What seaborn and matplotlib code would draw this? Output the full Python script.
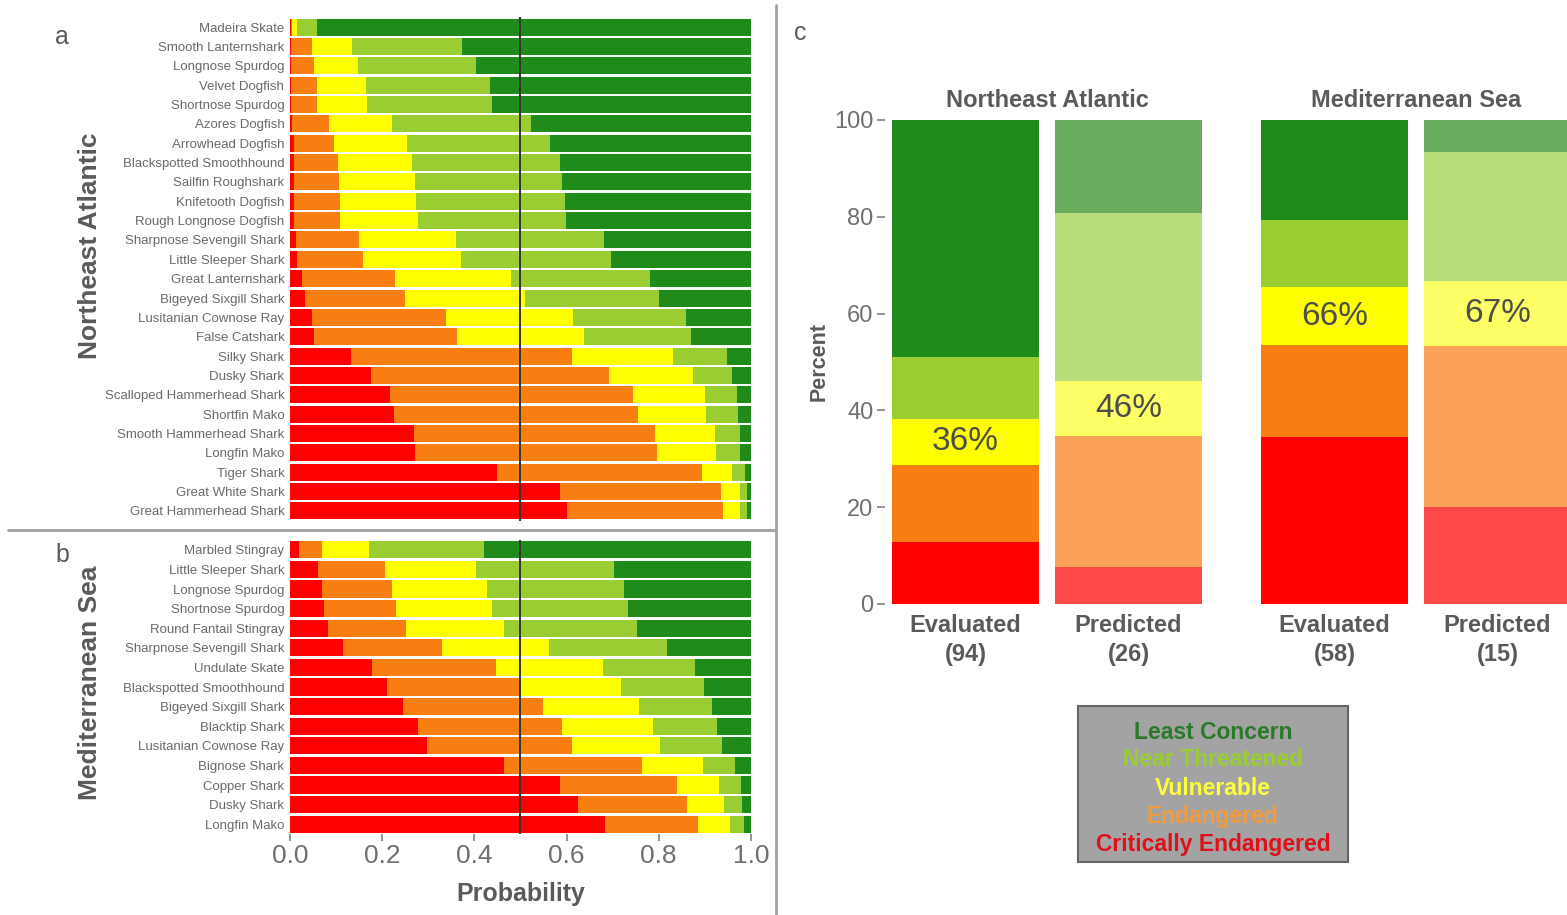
import numpy as np
import pandas as pd
import matplotlib
matplotlib.use("Agg")
import matplotlib.pyplot as plt
import seaborn as sns
from matplotlib.lines import Line2D
from matplotlib.patches import Rectangle

# ---------- data ----------
categories = ["Critically Endangered", "Endangered", "Vulnerable", "Near Threatened", "Least Concern"]

nea_species = ["Madeira Skate", "Smooth Lanternshark", "Longnose Spurdog", "Velvet Dogfish",
               "Shortnose Spurdog", "Azores Dogfish", "Arrowhead Dogfish", "Blackspotted Smoothhound",
               "Sailfin Roughshark", "Knifetooth Dogfish", "Rough Longnose Dogfish",
               "Sharpnose Sevengill Shark", "Little Sleeper Shark", "Great Lanternshark",
               "Bigeyed Sixgill Shark", "Lusitanian Cownose Ray", "False Catshark", "Silky Shark",
               "Dusky Shark", "Scalloped Hammerhead Shark", "Shortfin Mako", "Smooth Hammerhead Shark",
               "Longfin Mako", "Tiger Shark", "Great White Shark", "Great Hammerhead Shark"]
nea_cr = [0.002, 0.002, 0.002, 0.003, 0.003, 0.005, 0.008, 0.008, 0.008, 0.008, 0.008, 0.014, 0.016,
          0.027, 0.032, 0.047, 0.052, 0.132, 0.177, 0.218, 0.225, 0.269, 0.271, 0.449, 0.586, 0.601]
nea_en = [0.003, 0.045, 0.051, 0.055, 0.056, 0.080, 0.088, 0.097, 0.099, 0.100, 0.100, 0.136, 0.143,
          0.200, 0.217, 0.291, 0.311, 0.480, 0.516, 0.527, 0.530, 0.523, 0.525, 0.445, 0.349, 0.338]
nea_vu = [0.011, 0.087, 0.095, 0.107, 0.108, 0.137, 0.157, 0.160, 0.164, 0.166, 0.169, 0.210, 0.213,
          0.253, 0.260, 0.276, 0.276, 0.220, 0.181, 0.156, 0.148, 0.131, 0.128, 0.066, 0.041, 0.038]
nea_nt = [0.042, 0.240, 0.256, 0.270, 0.271, 0.301, 0.312, 0.320, 0.320, 0.322, 0.321, 0.322, 0.325,
          0.301, 0.292, 0.245, 0.232, 0.117, 0.086, 0.069, 0.068, 0.053, 0.052, 0.028, 0.015, 0.014]
nea_lc = [0.942, 0.626, 0.596, 0.565, 0.562, 0.477, 0.435, 0.415, 0.409, 0.404, 0.402, 0.318, 0.303,
          0.219, 0.199, 0.141, 0.129, 0.051, 0.040, 0.030, 0.029, 0.024, 0.024, 0.012, 0.009, 0.009]

med_species = ["Marbled Stingray", "Little Sleeper Shark", "Longnose Spurdog", "Shortnose Spurdog",
               "Round Fantail Stingray", "Sharpnose Sevengill Shark", "Undulate Skate",
               "Blackspotted Smoothhound", "Bigeyed Sixgill Shark", "Blacktip Shark",
               "Lusitanian Cownose Ray", "Bignose Shark", "Copper Shark", "Dusky Shark", "Longfin Mako"]
med_cr = [0.020, 0.062, 0.070, 0.073, 0.082, 0.115, 0.178, 0.211, 0.245, 0.278, 0.298, 0.465, 0.585, 0.625, 0.683]
med_en = [0.050, 0.144, 0.151, 0.157, 0.169, 0.215, 0.270, 0.286, 0.303, 0.312, 0.313, 0.298, 0.255, 0.236, 0.203]
med_vu = [0.101, 0.198, 0.207, 0.208, 0.214, 0.233, 0.231, 0.222, 0.209, 0.198, 0.191, 0.132, 0.090, 0.080, 0.068]
med_nt = [0.250, 0.299, 0.297, 0.295, 0.287, 0.255, 0.200, 0.179, 0.158, 0.139, 0.135, 0.071, 0.048, 0.039, 0.030]
med_lc = [0.579, 0.297, 0.275, 0.267, 0.248, 0.182, 0.121, 0.102, 0.085, 0.073, 0.063, 0.034, 0.022, 0.020, 0.016]

# panel c: species counts per status (CR, EN, VU, NT, LC)
status_labels = ["Evaluated\n(94)", "Predicted\n(26)", "Evaluated\n(58)", "Predicted\n(15)"]
nea_eval_counts = [12, 15, 9, 12, 46]
nea_pred_counts = [2, 7, 3, 9, 5]
med_eval_counts = [20, 11, 7, 8, 12]
med_pred_counts = [3, 5, 2, 4, 1]
threat_labels = ["36%", "46%", "66%", "67%"]

# ---------- style ----------
eval_colors = ["#FF0000", "#F97E12", "#FFFF00", "#9ACD32", "#1F8B1A"]
pred_colors = ["#FF4848", "#FBA15A", "#FFFF66", "#B6DC7C", "#6AAB5E"]
legend_colors = ["#E0101A", "#F29A3C", "#FFFF3A", "#9ACD32", "#2A7A2A"]
grey_txt = "#5A5A5A"

sns.set_theme(style="white")
plt.rcParams["font.family"] = ["Liberation Sans", "DejaVu Sans"]

fig = plt.figure(figsize=(15.67, 9.15), dpi=100)


def stacked_probs(ax, species, parts):
    cum = np.cumsum(np.array(parts), axis=0)
    # draw from the outermost (LC) inwards so each category overlays the next
    for i in range(len(parts) - 1, -1, -1):
        sns.barplot(x=cum[i], y=species, orient="h", color=eval_colors[i], saturation=1,
                    width=0.88, ax=ax, linewidth=0)
    ax.axvline(0.5, color="#333333", lw=1.4, zorder=5)
    ax.set_xlim(0, 1.0)
    ax.set_ylim(len(species) - 0.5, -0.5)
    ax.set_ylabel("")
    ax.set_xlabel("")
    for s in ax.spines.values():
        s.set_visible(False)
    ax.tick_params(axis="y", length=0, pad=4, labelsize=9.5, labelcolor="#6A6A6A")


ax_a = fig.add_axes([0.185, 0.431, 0.2942, 0.550])
stacked_probs(ax_a, nea_species, [nea_cr, nea_en, nea_vu, nea_nt, nea_lc])
ax_a.set_xticks([])

ax_b = fig.add_axes([0.185, 0.0885, 0.2942, 0.3213])
stacked_probs(ax_b, med_species, [med_cr, med_en, med_vu, med_nt, med_lc])
ax_b.set_xticks([0, 0.2, 0.4, 0.6, 0.8, 1.0])
ax_b.set_xticklabels(["0.0", "0.2", "0.4", "0.6", "0.8", "1.0"])
ax_b.tick_params(axis="x", bottom=True, length=5, color="#888888", labelsize=19,
                 labelcolor="#707070", pad=2)
ax_b.set_xlabel("Probability", fontsize=18, fontweight="bold", color="#5A5A5A", labelpad=10)

fig.text(0.0574, 0.731, "Northeast Atlantic", rotation=90, ha="center", va="center",
         fontsize=19, fontweight="bold", color=grey_txt)
fig.text(0.0574, 0.2536, "Mediterranean Sea", rotation=90, ha="center", va="center",
         fontsize=19, fontweight="bold", color=grey_txt)
fig.text(0.0396, 0.9596, "a", ha="center", va="center", fontsize=18, color=grey_txt)
fig.text(0.0396, 0.3934, "b", ha="center", va="center", fontsize=18, color=grey_txt)
fig.text(0.5105, 0.964, "c", ha="center", va="center", fontsize=18, color=grey_txt)

# separators between panels
fig.add_artist(Line2D([0.005, 0.4946], [0.4208, 0.4208], color="#A0A0A0", lw=2))
fig.add_artist(Line2D([0.4952, 0.4952], [0.0, 0.995], color="#A0A0A0", lw=2))

# ---------- panel c ----------
ax_c1 = fig.add_axes([0.559, 0.3399, 0.2183, 0.529])
ax_c2 = fig.add_axes([0.7945, 0.3399, 0.2183, 0.529])


def stacked_counts(ax, labels, eval_counts, pred_counts, title, pct_text, show_y):
    ev = np.cumsum(eval_counts) / np.sum(eval_counts) * 100
    pr = np.cumsum(pred_counts) / np.sum(pred_counts) * 100
    for i in range(len(eval_counts) - 1, -1, -1):
        sns.barplot(x=labels, y=[ev[i], pr[i]], hue=labels,
                    palette=[eval_colors[i], pred_colors[i]], saturation=1, width=0.9,
                    legend=False, ax=ax, linewidth=0)
    # threatened share written in the yellow (VU) band
    for j, cum in enumerate([ev, pr]):
        ax.text(j, (cum[1] + cum[2]) / 2, pct_text[j], ha="center", va="center",
                fontsize=24, color="#4D4D4D")
    ax.set_xlim(-0.55, 1.55)
    ax.set_ylim(0, 100)
    ax.set_title(title, fontsize=17, fontweight="bold", color=grey_txt, pad=9)
    ax.set_xlabel("")
    for s in ax.spines.values():
        s.set_visible(False)
    ax.tick_params(axis="x", length=0, labelsize=17, labelcolor=grey_txt, pad=7)
    for t in ax.get_xticklabels():
        t.set_fontweight("bold")
        t.set_linespacing(1.35)
    if show_y:
        # ticks sit just left of the first bar, as in a ggplot facet
        ax.spines["left"].set_position(("axes", 0.025))
        ax.set_yticks([0, 20, 40, 60, 80, 100])
        ax.tick_params(axis="y", left=True, length=6, color="#888888", labelsize=17,
                       labelcolor="#707070", pad=2)
        ax.set_ylabel("Percent", fontsize=15.5, fontweight="bold", color="#5A5A5A", labelpad=3)
    else:
        ax.set_yticks([])
        ax.set_ylabel("")


stacked_counts(ax_c1, status_labels[:2], nea_eval_counts, nea_pred_counts,
               "Northeast Atlantic", threat_labels[:2], True)
stacked_counts(ax_c2, status_labels[2:], med_eval_counts, med_pred_counts,
               "Mediterranean Sea", threat_labels[2:], False)

# legend box
fig.add_artist(Rectangle((0.688, 0.0579), 0.1723, 0.1705, transform=fig.transFigure,
                         facecolor="#A3A3A3", edgecolor="#666666", lw=1.5))
legend_y = [0.1995, 0.1700, 0.1385, 0.1080, 0.0775]
for name, col, y in zip(categories[::-1], legend_colors[::-1], legend_y):
    fig.text(0.774, y, name, ha="center", va="center", fontsize=16.5, fontweight="bold", color=col)

fig.savefig("out.png", dpi=100)
